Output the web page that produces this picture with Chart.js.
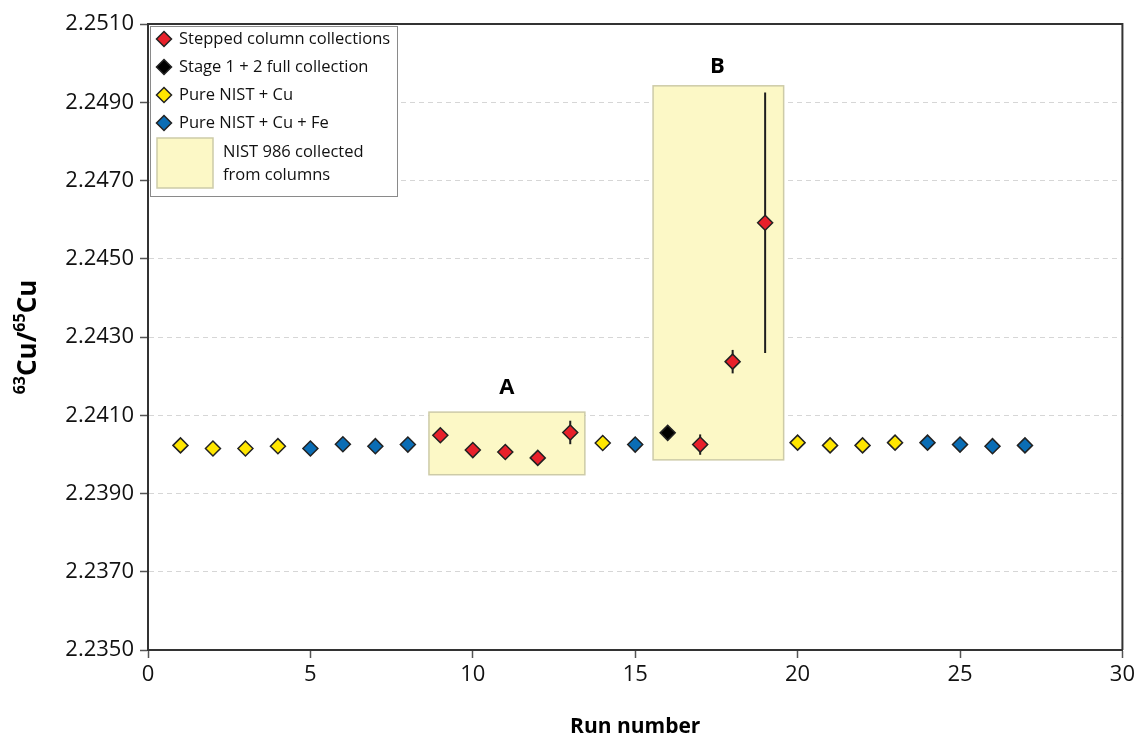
<!DOCTYPE html>
<html>
<head>
<meta charset="utf-8">
<script src="https://cdn.jsdelivr.net/npm/chart.js@4.4.0/dist/chart.umd.min.js"></script>
<style>
  html, body { margin: 0; padding: 0; background: #fff; }
  canvas { display: block; }
</style>
</head>
<body>
<canvas id="chart" width="1139" height="738" style="width:1139px;height:738px"></canvas>
<script>
// Run numbers and measured 63Cu/65Cu ratios
const runsStepped = [9, 10, 11, 12, 13, 17, 18, 19];
const ratioStepped = [2.24049, 2.24011, 2.24006, 2.23991, 2.24056, 2.24025, 2.24237, 2.24592];
const errStepped = [0.00015, 0.00015, 0.00015, 0.00015, 0.0003, 0.00026, 0.0003, 0.00333];

const runsFull = [16];
const ratioFull = [2.24055];

const runsCu = [1, 2, 3, 4, 14, 20, 21, 22, 23];
const ratioCu = [2.24023, 2.24015, 2.24015, 2.24021, 2.24029, 2.24030, 2.24023, 2.24023, 2.24030];

const runsCuFe = [5, 6, 7, 8, 15, 24, 25, 26, 27];
const ratioCuFe = [2.24015, 2.24026, 2.24021, 2.24025, 2.24025, 2.24030, 2.24025, 2.24021, 2.24023];

// Shaded regions: NIST 986 collected from columns
const boxLabels = ['A', 'B'];
const boxRuns = [[8.65, 13.45], [15.55, 19.57]];
const boxRatios = [[2.23948, 2.24108], [2.23986, 2.24942]];
const boxLabelPos = [[11.05, 2.2417], [17.53, 2.2499]];

// Axis ticks
const yMin = 2.2350, yMax = 2.2510, yStep = 0.002;
const xMin = 0, xMax = 30, xStep = 5;

const legendItems = [
    { label: 'Stepped column collections', color: '#E8202A' },
    { label: 'Stage 1 + 2 full collection', color: '#000000' },
    { label: 'Pure NIST + Cu', color: '#FFE600' },
    { label: 'Pure NIST + Cu + Fe', color: '#0A6DB5' }
];

const FONT = '"Open Sans", "Noto Sans", sans-serif';
const boxFill = '#FCF8C6';
const boxEdge = '#CDCBA8';

function toPoints(xs, ys) {
    return xs.map((x, i) => ({ x: x, y: ys[i] }));
}

function diamond(ctx, x, y, r, fill) {
    ctx.beginPath();
    ctx.moveTo(x, y - r);
    ctx.lineTo(x + r, y);
    ctx.lineTo(x, y + r);
    ctx.lineTo(x - r, y);
    ctx.closePath();
    ctx.fillStyle = fill;
    ctx.fill();
    ctx.lineWidth = 1.5;
    ctx.strokeStyle = '#222';
    ctx.stroke();
}

// Shaded boxes + labels
const boxesPlugin = {
    id: 'boxes',
    beforeDatasetsDraw(chart) {
        const { ctx, scales: { x, y } } = chart;
        ctx.save();
        boxRuns.forEach((r, i) => {
            const x0 = x.getPixelForValue(r[0]);
            const x1 = x.getPixelForValue(r[1]);
            const y0 = y.getPixelForValue(boxRatios[i][1]);
            const y1 = y.getPixelForValue(boxRatios[i][0]);
            ctx.fillStyle = boxFill;
            ctx.fillRect(x0, y0, x1 - x0, y1 - y0);
            ctx.strokeStyle = boxEdge;
            ctx.lineWidth = 1.5;
            ctx.strokeRect(x0, y0, x1 - x0, y1 - y0);
            ctx.fillStyle = '#000';
            ctx.font = 'bold 22px ' + FONT;
            ctx.textAlign = 'center';
            ctx.textBaseline = 'middle';
            ctx.fillText(boxLabels[i], x.getPixelForValue(boxLabelPos[i][0]), y.getPixelForValue(boxLabelPos[i][1]));
        });
        ctx.restore();
    }
};

// Vertical error bars on the stepped collections
const errorBarsPlugin = {
    id: 'errorBars',
    beforeDatasetsDraw(chart) {
        const { ctx, scales: { x, y } } = chart;
        ctx.save();
        ctx.strokeStyle = '#1e1e1e';
        ctx.lineWidth = 2;
        runsStepped.forEach((r, i) => {
            const px = x.getPixelForValue(r);
            ctx.beginPath();
            ctx.moveTo(px, y.getPixelForValue(ratioStepped[i] - errStepped[i]));
            ctx.lineTo(px, y.getPixelForValue(ratioStepped[i] + errStepped[i]));
            ctx.stroke();
        });
        ctx.restore();
    }
};

// Frame, axis titles and the legend
const decorPlugin = {
    id: 'decor',
    afterDraw(chart) {
        const { ctx, chartArea: a } = chart;
        ctx.save();
        // top / right frame
        ctx.strokeStyle = '#333';
        ctx.lineWidth = 2;
        ctx.beginPath();
        ctx.moveTo(a.left, a.top);
        ctx.lineTo(a.right, a.top);
        ctx.lineTo(a.right, a.bottom);
        ctx.stroke();

        // x title
        ctx.fillStyle = '#000';
        ctx.font = 'bold 21px ' + FONT;
        ctx.textAlign = 'center';
        ctx.textBaseline = 'alphabetic';
        ctx.fillText('Run number', (a.left + a.right) / 2, 733);

        // y title with superscripts
        const parts = [
            { t: '63', sup: true }, { t: 'Cu/', sup: false },
            { t: '65', sup: true }, { t: 'Cu', sup: false }
        ];
        const big = 'bold 26px ' + FONT, small = 'bold 16px ' + FONT;
        let total = 0;
        parts.forEach(p => { ctx.font = p.sup ? small : big; p.w = ctx.measureText(p.t).width; total += p.w; });
        ctx.translate(27, (a.top + a.bottom) / 2);
        ctx.rotate(-Math.PI / 2);
        ctx.textAlign = 'left';
        let cx = -total / 2;
        parts.forEach(p => {
            ctx.font = p.sup ? small : big;
            ctx.fillText(p.t, cx, p.sup ? -2 : 9);
            cx += p.w;
        });
        ctx.restore();

        // legend
        ctx.save();
        const lx = a.left + 2, ly = a.top + 2, lw = 247, lh = 170;
        ctx.fillStyle = '#fff';
        ctx.fillRect(lx, ly, lw, lh);
        ctx.strokeStyle = '#8a8a8a';
        ctx.lineWidth = 1;
        ctx.strokeRect(lx + 0.5, ly + 0.5, lw, lh);
        ctx.font = '16.5px ' + FONT;
        ctx.textAlign = 'left';
        ctx.textBaseline = 'middle';
        legendItems.forEach((it, i) => {
            const yy = a.top + 15 + i * 28;
            diamond(ctx, a.left + 16, yy, 7.5, it.color);
            ctx.fillStyle = '#111';
            ctx.fillText(it.label, a.left + 31, yy);
        });
        ctx.fillStyle = boxFill;
        ctx.fillRect(a.left + 9, a.top + 114, 56, 50);
        ctx.strokeStyle = boxEdge;
        ctx.lineWidth = 1.5;
        ctx.strokeRect(a.left + 9, a.top + 114, 56, 50);
        ctx.fillStyle = '#111';
        ctx.fillText('NIST 986 collected', a.left + 75, a.top + 128);
        ctx.fillText('from columns', a.left + 75, a.top + 151);
        ctx.restore();
    }
};

function series(label, xs, ys, color) {
    return {
        label: label,
        data: toPoints(xs, ys),
        pointStyle: 'rectRot',
        pointRadius: 7.5,
        pointHoverRadius: 7.5,
        pointBackgroundColor: color,
        pointBorderColor: '#222',
        pointBorderWidth: 1.5,
        showLine: false
    };
}

new Chart(document.getElementById('chart'), {
    type: 'scatter',
    data: {
        datasets: [
            series('Pure NIST + Cu', runsCu, ratioCu, legendItems[2].color),
            series('Pure NIST + Cu + Fe', runsCuFe, ratioCuFe, legendItems[3].color),
            series('Stage 1 + 2 full collection', runsFull, ratioFull, legendItems[1].color),
            series('Stepped column collections', runsStepped, ratioStepped, legendItems[0].color)
        ]
    },
    options: {
        responsive: false,
        animation: false,
        devicePixelRatio: 1,
        layout: { padding: { top: 24, right: 15, left: 0, bottom: 0 } },
        plugins: {
            legend: { display: false },
            tooltip: { enabled: false }
        },
        scales: {
            x: {
                type: 'linear',
                min: xMin,
                max: xMax,
                afterFit(scale) { scale.height = 88; },
                ticks: {
                    stepSize: xStep,
                    color: '#111',
                    padding: 4,
                    font: { family: FONT, size: 22 }
                },
                grid: {
                    drawOnChartArea: false,
                    tickLength: 8,
                    tickColor: '#555',
                    tickWidth: 1.5
                },
                border: { color: '#333', width: 2 }
            },
            y: {
                type: 'linear',
                min: yMin,
                max: yMax,
                afterFit(scale) { scale.width = 148; },
                ticks: {
                    stepSize: yStep,
                    color: '#111',
                    padding: 6,
                    font: { family: FONT, size: 22 },
                    callback: v => v.toFixed(4)
                },
                grid: {
                    color: '#d6d6d6',
                    lineWidth: 1,
                    tickLength: 8,
                    tickColor: '#555',
                    tickWidth: 1.5,
                    tickBorderDash: []
                },
                border: { color: '#333', width: 2, dash: [5, 4] }
            }
        }
    },
    plugins: [boxesPlugin, errorBarsPlugin, decorPlugin]
});
</script>
</body>
</html>
